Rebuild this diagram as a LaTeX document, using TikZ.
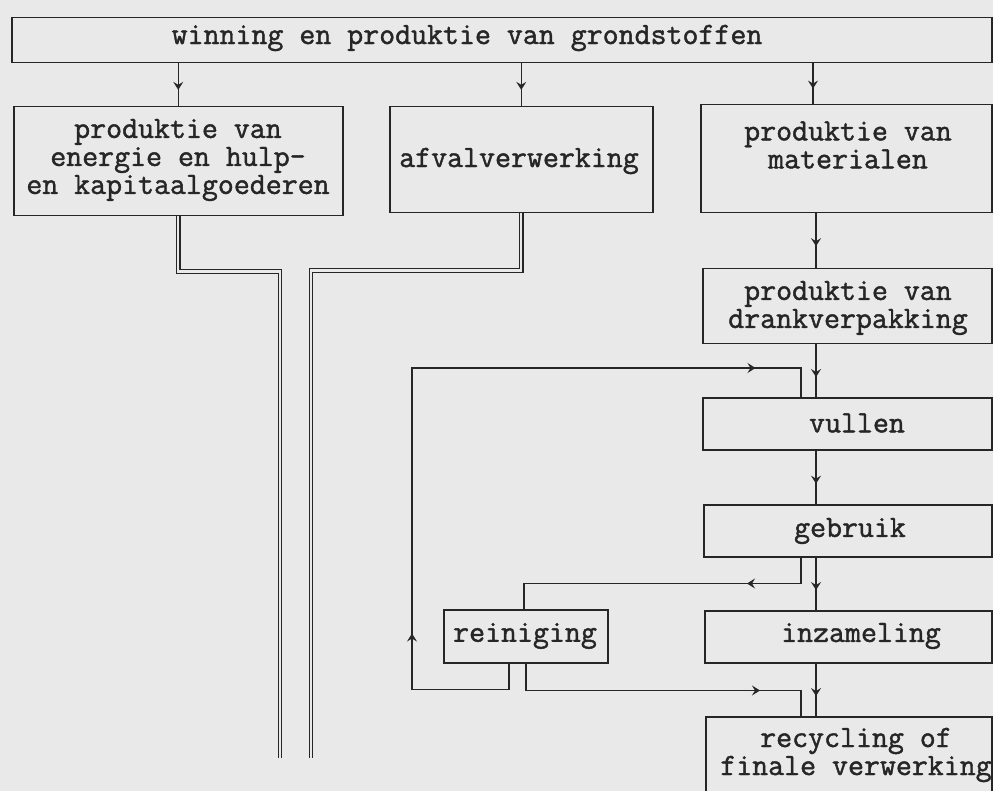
\documentclass[tikz,border=0pt]{standalone}
\usepackage{fontspec}
\newfontfamily\tw{Latin Modern Mono}[FakeBold=1.4]
\usetikzlibrary{arrows.meta,decorations.markings}
\definecolor{paper}{HTML}{E9E9E9}
\definecolor{ink}{HTML}{262626}
\tikzset{ahead/.tip={Stealth[length=8pt,width=10pt,inset=3pt]}}
\begin{document}
\begin{tikzpicture}[x=1pt,y=-1pt,
  box/.style={draw=ink, line width=1.5pt, rectangle, inner sep=0pt, anchor=north west},
  lbl/.style={font=\tw\fontsize{31}{28}\selectfont, text=ink, inner sep=0pt, align=center},
  conn/.style={draw=ink, line width=1.3pt},
  midarrow/.style={postaction={decorate}, decoration={markings, mark=at position #1 with {\arrow{ahead}}}},
  twoarrows/.style 2 args={postaction={decorate}, decoration={markings,
      mark=at position #1 with {\arrow{ahead}},
      mark=at position #2 with {\arrow{ahead}}}},
  dbl/.style={draw=ink, line width=1.2pt, double=paper, double distance=2.4pt}
]
\fill[paper] (0,0) rectangle (993,791);
\useasboundingbox (0,0) rectangle (993,791);
\clip (0,0) rectangle (993,791);

% boxes
\node[box, minimum width=980pt, minimum height=45pt] (top) at (11,17) {};
\node[box, minimum width=329pt, minimum height=109pt] (en) at (13,106) {};
\node[box, minimum width=263pt, minimum height=106pt] (af) at (389,106) {};
\node[box, minimum width=291pt, minimum height=108pt] (mat) at (700,104) {};
\node[box, minimum width=289pt, minimum height=75pt] (dr) at (702,268) {};
\node[box, minimum width=289pt, minimum height=52pt] (vul) at (702,397) {};
\node[box, minimum width=288pt, minimum height=52pt] (geb) at (703,504) {};
\node[box, minimum width=287pt, minimum height=52pt] (inz) at (704,610) {};
\node[box, minimum width=286pt, minimum height=90pt] (rec) at (705,716) {};
\node[box, minimum width=164pt, minimum height=53pt] (rein) at (443,609) {};

% labels
\node[lbl] (topt) at (467,38) {winning en produktie van grondstoffen};
\node[lbl] (ent) at (178,160) {produktie van\\energie en hulp-\\en kapitaalgoederen};
\node[lbl] (aft) at (519,161) {afvalverwerking};
\node[lbl] (matt) at (848,145) {produktie van\\materialen};
\node[lbl] (drt) at (848,308) {produktie van\\drankverpakking};
\node[lbl] (vult) at (857,423) {vullen};
\node[lbl] (gebt) at (850,531) {gebruik};
\node[lbl] (inzt) at (861,636) {inzameling};
\node[lbl] (reint) at (525,636) {reiniging};
\node[lbl] (rect) at (856,755) {recycling of\\finale verwerking};

% column coordinates
\coordinate (col) at (816,0);
\coordinate (m1) at (813,0);
\coordinate (gx) at (801,0);
\coordinate (rx1) at (524,0);
\coordinate (rx2) at (526,0);
\coordinate (rx3) at (509,0);
\coordinate (loopTL) at (412,368);
\coordinate (d1end) at (280,758);
\coordinate (d2end) at (311,758);

% vertical connectors
\draw[conn, midarrow=0.62] (en.north |- top.south) -- (en.north);
\draw[conn, midarrow=0.62] (af.north |- top.south) -- (af.north);
\draw[conn, midarrow=0.62] (m1 |- top.south) -- (m1 |- mat.north);
\draw[conn, midarrow=0.6] (col |- mat.south) -- (col |- dr.north);
\draw[conn, midarrow=0.62] (col |- dr.south) -- (col |- vul.north);
\draw[conn, midarrow=0.62] (col |- vul.south) -- (col |- geb.north);
\draw[conn, midarrow=0.62] (col |- geb.south) -- (col |- inz.north);
\draw[conn, midarrow=0.62] (col |- inz.south) -- (col |- rec.north);

% loops via reiniging
\draw[conn, midarrow=80pt] (gx |- geb.south) -- ++(0,26) -| (rx1 |- rein.north);
\draw[conn, midarrow=261pt] (rx2 |- rein.south) -- ++(0,27) -| (gx |- rec.north);
\draw[conn, twoarrows={179pt}{788pt}] (rx3 |- rein.south) -- ++(0,26) -| (loopTL) -| (gx |- vul.north);

% double lines
\draw[dbl] (en.south) -- ++(0,55) -| (d1end);
\draw[dbl] (af.south) -- ++(0,57) -| (d2end);
\end{tikzpicture}
\end{document}
